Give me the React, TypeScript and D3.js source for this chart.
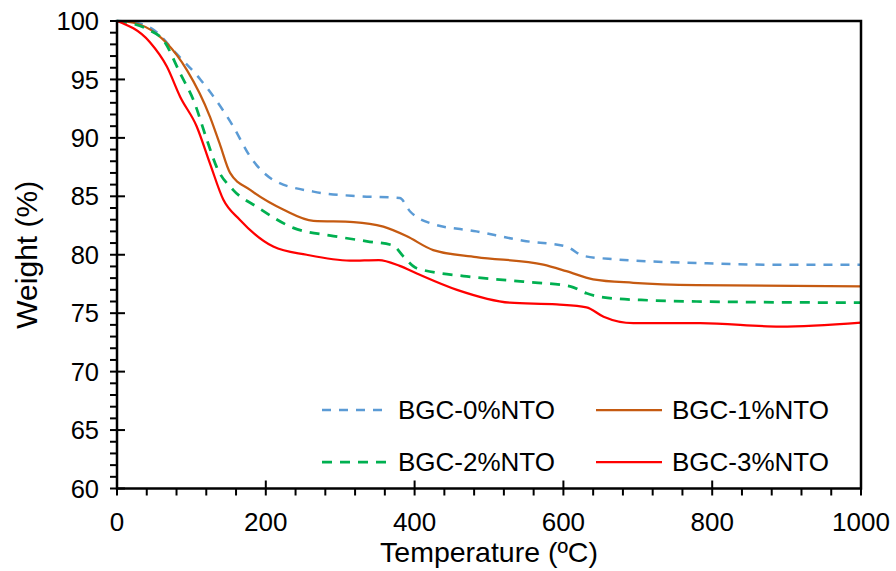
import React, { useEffect, useRef } from 'react';
import * as d3 from 'd3';

type Pt = [number, number];

// temperature (ºC), weight (%)
const bgc0: Pt[] = [
  [0, 100], [22, 99.9], [50, 99.2], [80, 97.2], [112, 95.0], [156, 91.0], [179, 88.4],
  [210, 86.4], [264, 85.4], [327, 85.0], [380, 84.85], [394, 83.7], [421, 82.7],
  [483, 82.0], [546, 81.2], [604, 80.7], [627, 79.9], [672, 79.6], [779, 79.3],
  [873, 79.15], [1000, 79.15],
];
const bgc1: Pt[] = [
  [0, 100], [22, 99.85], [53, 98.9], [67, 98.1], [94, 95.8], [125, 91.8], [138, 89.5],
  [152, 87.0], [179, 85.55], [224, 83.85], [264, 82.9], [318, 82.8], [358, 82.4],
  [389, 81.6], [425, 80.4], [483, 79.8], [573, 79.15], [604, 78.6], [640, 77.9],
  [694, 77.6], [779, 77.4], [1000, 77.3],
];
const bgc2: Pt[] = [
  [0, 100], [44, 99.2], [62, 98.4], [85, 95.5], [103, 93.2], [121, 89.8], [134, 87.5],
  [156, 85.55], [188, 84.1], [237, 82.3], [291, 81.6], [336, 81.15], [371, 80.8],
  [385, 79.85], [403, 78.85], [470, 78.15], [546, 77.7], [609, 77.3], [631, 76.7],
  [654, 76.35], [716, 76.1], [779, 76.0], [1000, 75.9],
];
const bgc3: Pt[] = [
  [0, 100], [44, 98.2], [67, 96.1], [85, 93.5], [107, 91.0], [125, 87.8], [143, 84.7],
  [165, 83.0], [210, 80.7], [255, 80.0], [313, 79.5], [352, 79.55], [380, 79.05],
  [403, 78.4], [457, 77.0], [528, 75.9], [591, 75.75], [631, 75.5], [654, 74.7],
  [694, 74.15], [784, 74.15], [891, 73.85], [1000, 74.2],
];

const seriesNames = ['BGC-0%NTO', 'BGC-1%NTO', 'BGC-2%NTO', 'BGC-3%NTO'];
const seriesData = [bgc0, bgc1, bgc2, bgc3];
const seriesColors = ['#5B9BD5', '#C55A11', '#00B050', '#FF0000'];
const seriesDash = ['9,8', null, '10,8', null];
const seriesWidth = [2.5, 2.25, 2.75, 2.25];

const xTicks = [0, 200, 400, 600, 800, 1000];
const yTicks = [60, 65, 70, 75, 80, 85, 90, 95, 100];

const W = 896;
const H = 571;
const FONT = '"Liberation Sans", Arial, sans-serif';

export default function App() {
  const ref = useRef<SVGSVGElement>(null);

  useEffect(() => {
    const svg = d3.select(ref.current);
    svg.selectAll('*').remove();

    const x = d3.scaleLinear().domain([0, 1000]).range([117, 861]);
    const y = d3.scaleLinear().domain([60, 100]).range([488.5, 21]);

    const line = d3
      .line<Pt>()
      .x((d) => x(d[0]))
      .y((d) => y(d[1]))
      .curve(d3.curveMonotoneX);

    // series
    seriesData.forEach((data, i) => {
      const p = svg.append('path')
        .datum(data)
        .attr('fill', 'none')
        .attr('stroke', seriesColors[i])
        .attr('stroke-width', seriesWidth[i])
        .attr('d', line);
      if (seriesDash[i]) p.attr('stroke-dasharray', seriesDash[i] as string);
    });

    // frame
    svg.append('rect')
      .attr('x', x(0)).attr('y', y(100))
      .attr('width', x(1000) - x(0)).attr('height', y(60) - y(100))
      .attr('fill', 'none').attr('stroke', '#000').attr('stroke-width', 2.5);

    // y ticks
    const yMinor = d3.range(60, 100.01, 1);
    yMinor.forEach((v) => {
      const major = v % 5 === 0;
      svg.append('line')
        .attr('x1', x(0) - 7).attr('x2', major ? x(0) + 8 : x(0))
        .attr('y1', y(v)).attr('y2', y(v))
        .attr('stroke', '#000').attr('stroke-width', 2);
    });
    yTicks.forEach((v) => {
      svg.append('text')
        .attr('x', 99).attr('y', y(v))
        .attr('dy', '0.36em')
        .attr('text-anchor', 'end')
        .style('font-family', FONT).style('font-size', '25.5px')
        .text(v);
    });

    // x ticks
    const xMinor = d3.range(0, 1000.01, 40);
    xMinor.forEach((v) => {
      const major = v % 200 === 0;
      svg.append('line')
        .attr('x1', x(v)).attr('x2', x(v))
        .attr('y1', major ? y(60) - 8 : y(60)).attr('y2', y(60) + 7)
        .attr('stroke', '#000').attr('stroke-width', 2);
    });
    xTicks.forEach((v) => {
      svg.append('text')
        .attr('x', x(v)).attr('y', 531)
        .attr('text-anchor', 'middle')
        .style('font-family', FONT).style('font-size', '26px')
        .text(v);
    });

    // axis titles
    svg.append('text')
      .attr('x', (x(0) + x(1000)) / 2).attr('y', 562)
      .attr('text-anchor', 'middle')
      .style('font-family', FONT).style('font-size', '28.5px')
      .text('Temperature (ºC)');
    svg.append('text')
      .attr('transform', `translate(37, ${(y(60) + y(100)) / 2}) rotate(-90)`)
      .attr('text-anchor', 'middle')
      .style('font-family', FONT).style('font-size', '30px')
      .text('Weight (%)');

    // legend
    const legendPos = [[322, 410], [596, 410], [322, 462], [596, 462]];
    seriesNames.forEach((name, i) => {
      const [lx, ly] = legendPos[i];
      const l = svg.append('line')
        .attr('x1', lx).attr('x2', lx + 66)
        .attr('y1', ly).attr('y2', ly)
        .attr('stroke', seriesColors[i])
        .attr('stroke-width', seriesWidth[i]);
      if (seriesDash[i]) l.attr('stroke-dasharray', seriesDash[i] as string);
      svg.append('text')
        .attr('x', lx + 76).attr('y', ly)
        .attr('dy', '0.36em')
        .style('font-family', FONT).style('font-size', '26px')
        .text(name);
    });
  }, []);

  return (
    <svg
      ref={ref}
      width={W}
      height={H}
      style={{ position: 'fixed', left: 0, top: 0, display: 'block', background: '#fff' }}
    />
  );
}
